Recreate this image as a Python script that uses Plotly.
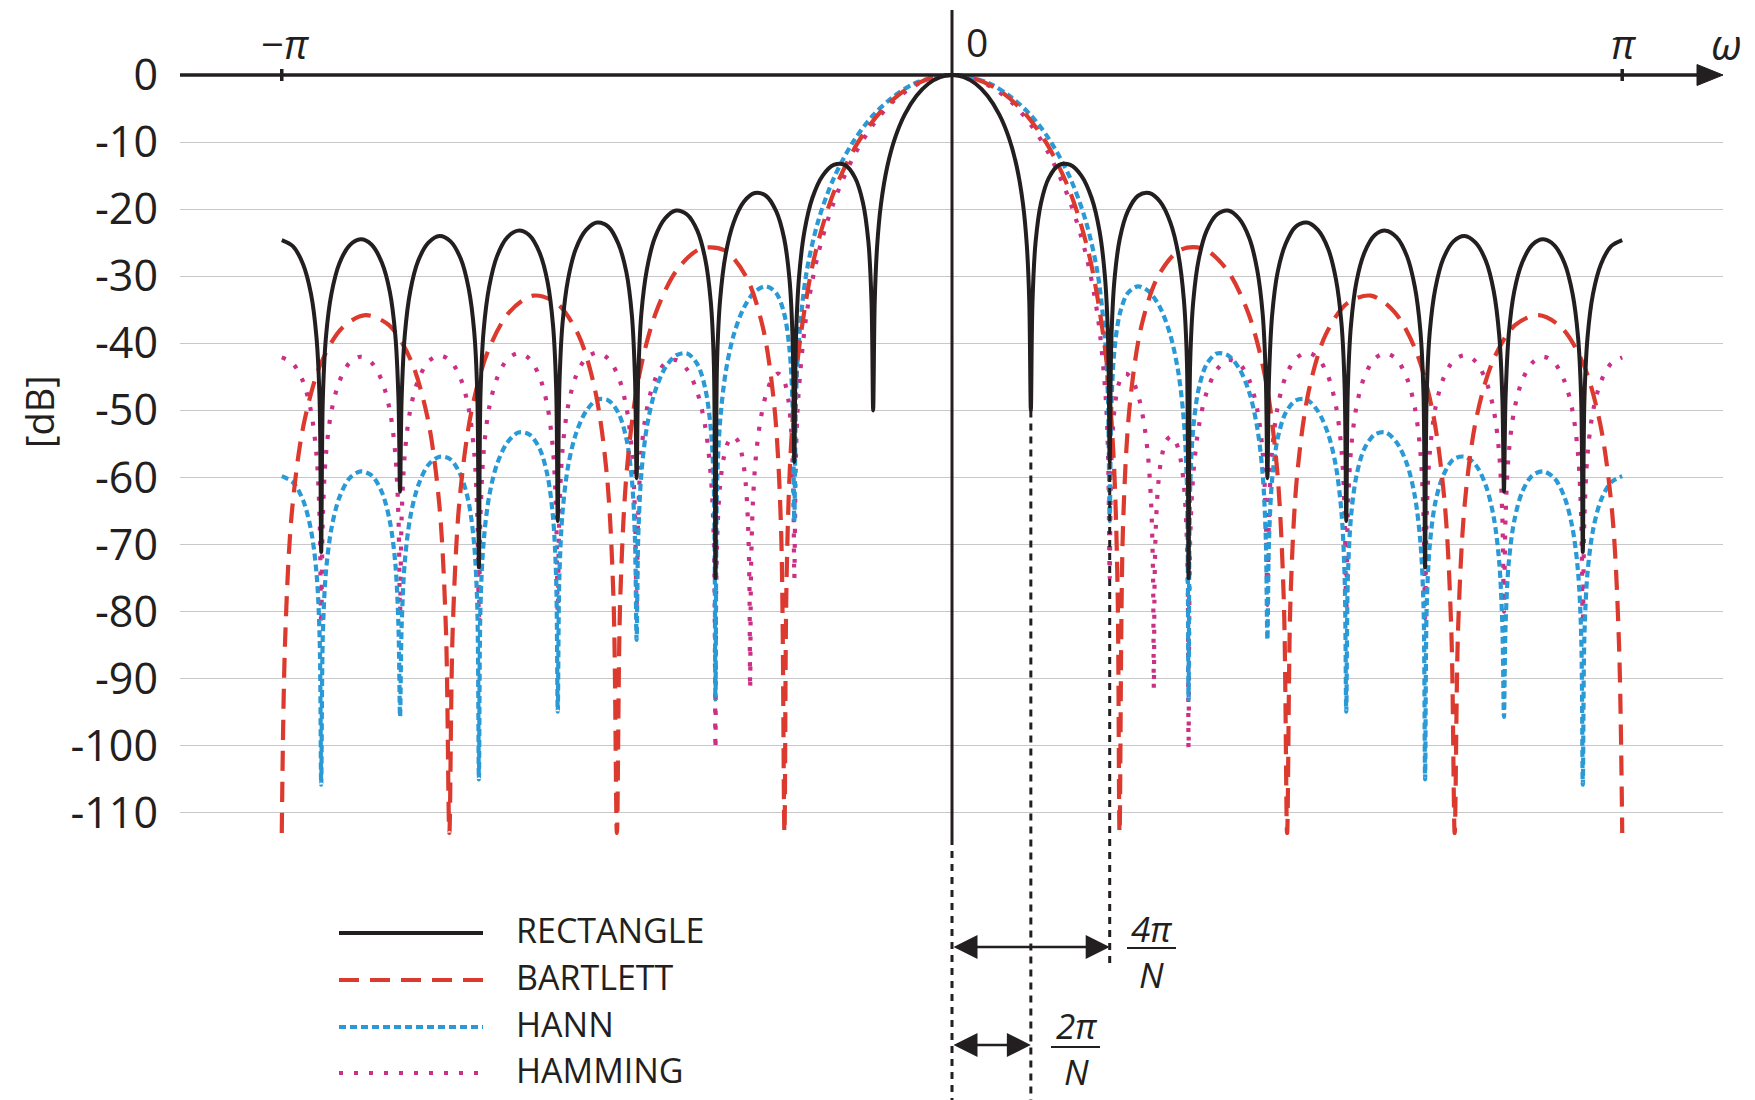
import plotly.graph_objects as go

# ---------------- data (positive-frequency half) ----------------
# x in units of 2*pi/N (N = 17): pi corresponds to 8.5
RECT_X = [0, 0.15, 0.3, 0.45, 0.6, 0.72, 0.82, 0.9, 0.95, 0.98, 1,
          1.02, 1.06, 1.13, 1.23, 1.36, 1.5, 1.64, 1.77, 1.87, 1.94, 1.98, 2,
          2.02, 2.06, 2.13, 2.23, 2.36, 2.5, 2.64, 2.77, 2.87, 2.94, 2.98, 3,
          3.02, 3.06, 3.13, 3.23, 3.36, 3.5, 3.64, 3.77, 3.87, 3.94, 3.98, 4,
          4.02, 4.06, 4.13, 4.23, 4.36, 4.5, 4.64, 4.77, 4.87, 4.94, 4.98, 5,
          5.02, 5.06, 5.13, 5.23, 5.36, 5.5, 5.64, 5.77, 5.87, 5.94, 5.98, 6,
          6.02, 6.06, 6.13, 6.23, 6.36, 6.5, 6.64, 6.77, 6.87, 6.94, 6.98, 7,
          7.02, 7.06, 7.13, 7.23, 7.36, 7.5, 7.64, 7.77, 7.87, 7.94, 7.98, 8,
          8.02, 8.06, 8.13, 8.23, 8.36, 8.5]
RECT_DB = [0.0, -0.3, -1.3, -3.1, -5.9, -9.3, -13.6, -19.2, -25.6, -33.8, -50.0,
           -34.1, -24.9, -19.0, -15.3, -13.4, -13.4, -15.0, -18.3, -23.2, -30.1, -39.7, -57.7,
           -39.9, -30.6, -24.3, -20.3, -18.0, -17.6, -18.9, -22.0, -26.7, -33.4, -43.0, -75.0,
           -43.1, -33.7, -27.4, -23.2, -20.8, -20.2, -21.4, -24.3, -29.0, -35.6, -45.2, -60.1,
           -45.3, -35.8, -29.4, -25.2, -22.6, -22.0, -23.1, -25.9, -30.5, -37.1, -46.7, -66.5,
           -46.7, -37.3, -30.8, -26.5, -23.9, -23.2, -24.2, -27.0, -31.6, -38.1, -47.7, -73.4,
           -47.7, -38.2, -31.8, -27.4, -24.8, -24.0, -25.0, -27.7, -32.2, -38.8, -48.3, -62.1,
           -48.3, -38.8, -32.3, -28.0, -25.3, -24.5, -25.4, -28.1, -32.6, -39.1, -48.6, -71.1,
           -48.6, -39.1, -32.6, -28.2, -25.5, -24.6]

BART_X = [0, 0.3, 0.6, 0.9, 1.2, 1.5, 1.75, 1.95, 2.05, 2.1, 2.125,
          2.168, 2.253, 2.401, 2.614, 2.89, 3.188, 3.485, 3.761, 3.974, 4.123, 4.208, 4.25,
          4.293, 4.378, 4.526, 4.739, 5.015, 5.313, 5.61, 5.886, 6.099, 6.248, 6.333, 6.375,
          6.418, 6.503, 6.651, 6.864, 7.14, 7.438, 7.735, 8.011, 8.224, 8.373, 8.458, 8.5]
BART_DB = [0.0, -0.6, -2.3, -5.4, -10.2, -17.5, -27.4, -41.7, -57.1, -76.5, -113.0,
           -67.6, -49.4, -37.5, -30.0, -26.1, -25.9, -29.0, -35.6, -45.2, -58.8, -78.3, -113.0,
           -78.1, -59.5, -47.0, -38.7, -34.0, -32.9, -35.3, -41.2, -50.4, -63.7, -83.0, -113.0,
           -82.7, -63.9, -51.1, -42.5, -37.3, -35.8, -37.7, -43.2, -52.2, -65.3, -84.4, -113.0]

HANN_X = [0, 0.25, 0.5, 0.75, 1.0, 1.25, 1.5, 1.7, 1.85, 1.95, 1.98, 2,
          2.02, 2.06, 2.13, 2.23, 2.36, 2.5, 2.64, 2.77, 2.87, 2.94, 2.98, 3,
          3.02, 3.06, 3.13, 3.23, 3.36, 3.5, 3.64, 3.77, 3.87, 3.94, 3.98, 4,
          4.02, 4.06, 4.13, 4.23, 4.36, 4.5, 4.64, 4.77, 4.87, 4.94, 4.98, 5,
          5.02, 5.06, 5.13, 5.23, 5.36, 5.5, 5.64, 5.77, 5.87, 5.94, 5.98, 6,
          6.02, 6.06, 6.13, 6.23, 6.36, 6.5, 6.64, 6.77, 6.87, 6.94, 6.98, 7,
          7.02, 7.06, 7.13, 7.23, 7.36, 7.5, 7.64, 7.77, 7.87, 7.94, 7.98, 8,
          8.02, 8.06, 8.13, 8.23, 8.36, 8.5]
HANN_DB = [0.0, -0.4, -1.4, -3.3, -6.0, -9.9, -15.4, -21.9, -29.8, -40.8, -49.2, -66.5,
           -49.9, -41.0, -35.5, -32.5, -31.5, -32.3, -34.7, -38.8, -44.3, -51.5, -61.4, -93.1,
           -61.7, -52.6, -46.7, -43.1, -41.5, -41.8, -43.7, -47.3, -52.5, -59.5, -69.2, -84.2,
           -69.5, -60.3, -54.2, -50.4, -48.5, -48.4, -50.1, -53.5, -58.4, -65.3, -75.0, -94.9,
           -75.2, -65.9, -59.7, -55.7, -53.6, -53.3, -54.8, -58.0, -62.8, -69.6, -79.2, -105.0,
           -79.4, -70.0, -63.7, -59.7, -57.3, -56.9, -58.1, -61.2, -65.9, -72.6, -82.2, -95.7,
           -82.2, -72.8, -66.5, -62.2, -59.7, -59.1, -60.1, -63.0, -67.6, -74.1, -83.7, -105.8,
           -83.7, -74.2, -67.8, -63.4, -60.7, -59.8]

HAMM_X = [0, 0.25, 0.5, 0.75, 1.0, 1.25, 1.5, 1.7, 1.85, 1.95, 1.98, 2,
          2.011, 2.034, 2.073, 2.129, 2.202, 2.28, 2.358, 2.431, 2.487, 2.526, 2.549, 2.56,
          2.569, 2.586, 2.617, 2.661, 2.718, 2.78, 2.842, 2.899, 2.943, 2.974, 2.991, 3,
          3.02, 3.06, 3.13, 3.23, 3.36, 3.5, 3.64, 3.77, 3.87, 3.94, 3.98, 4,
          4.02, 4.06, 4.13, 4.23, 4.36, 4.5, 4.64, 4.77, 4.87, 4.94, 4.98, 5,
          5.02, 5.06, 5.13, 5.23, 5.36, 5.5, 5.64, 5.77, 5.87, 5.94, 5.98, 6,
          6.02, 6.06, 6.13, 6.23, 6.36, 6.5, 6.64, 6.77, 6.87, 6.94, 6.98, 7,
          7.02, 7.06, 7.13, 7.23, 7.36, 7.5, 7.64, 7.77, 7.87, 7.94, 7.98, 8,
          8.02, 8.06, 8.13, 8.23, 8.36, 8.5]
HAMM_DB = [0.0, -0.4, -1.8, -4.0, -7.4, -12.2, -19.0, -26.8, -36.1, -48.2, -57.0, -75.0,
           -63.1, -54.0, -48.6, -45.6, -44.5, -45.3, -47.6, -51.6, -56.9, -64.0, -74.1, -91.5,
           -75.9, -67.1, -60.8, -56.8, -54.5, -53.9, -54.8, -57.3, -61.4, -67.8, -76.8, -100.5,
           -69.5, -59.6, -52.4, -47.3, -43.9, -42.5, -43.0, -45.5, -49.8, -56.2, -65.7, -79.0,
           -65.6, -56.1, -49.5, -45.0, -42.3, -41.4, -42.2, -44.9, -49.4, -55.9, -65.4, -80.0,
           -65.4, -55.9, -49.4, -45.0, -42.3, -41.5, -42.4, -45.2, -49.6, -56.2, -65.7, -81.0,
           -65.7, -56.2, -49.7, -45.3, -42.6, -41.8, -42.7, -45.5, -49.9, -56.5, -66.0, -80.0,
           -66.0, -56.5, -50.0, -45.6, -42.9, -42.0, -42.9, -45.7, -50.1, -56.6, -66.1, -82.0,
           -66.1, -56.6, -50.1, -45.7, -43.0, -42.1]

Y_TICKS = [0, -10, -20, -30, -40, -50, -60, -70, -80, -90, -100, -110]
Y_TICK_TEXT = ["0", "-10", "-20", "-30", "-40", "-50", "-60", "-70", "-80", "-90", "-100", "-110"]
PI_POS = 8.5          # omega = pi in units of 2*pi/N
RECT_NULL_1, RECT_NULL_2 = -50.0, -57.7

# ---------------- styling / geometry (page pixel targets) ----------------
W, H = 1755, 1100
OFF = 8                          # page body margin
PL, PR = 180, 1723               # plot-area left / right on the page
X0PX, PXU = 952, 78.85           # page pixel of omega=0, pixels per unit
Y0PX, PXDB = 75, 6.708           # page pixel of 0 dB, pixels per dB

def ux(px):
    return (px - X0PX) / PXU

def dby(py):
    return -(py - Y0PX) / PXDB

def xp(px):
    return (px - PL) / (PR - PL)

def yp(py):
    return 1 - (py - OFF) / H

XR = [ux(PL), ux(PR)]
YR = [dby(H + OFF), dby(OFF)]

BLACK = "#231f20"
RED = "#dc3a2e"
BLUE = "#2a9ad6"
PINK = "#cc2f86"
FONT = "Open Sans"

def mirror(xs, ys):
    return ([-v for v in reversed(xs[1:])] + list(xs),
            list(reversed(ys[1:])) + list(ys))

fig = go.Figure()
series = [
    ("HAMMING", HAMM_X, HAMM_DB, PINK, "4px,11px", 4.2),
    ("HANN", HANN_X, HANN_DB, BLUE, "7px,4px", 4.2),
    ("BARTLETT", BART_X, BART_DB, RED, "20px,11px", 4.2),
    ("RECTANGLE", RECT_X, RECT_DB, BLACK, "solid", 4),
]
for name, xs, ys, col, dash, wid in series:
    fx, fy = mirror(xs, ys)
    fig.add_trace(go.Scatter(x=fx, y=fy, mode="lines", name=name,
                             line=dict(color=col, dash=dash, width=wid,
                                       shape="spline", smoothing=0.9),
                             showlegend=False, hoverinfo="skip"))

shapes = []
# omega axis with arrow
shapes.append(dict(type="line", xref="x", yref="y", x0=XR[0], x1=ux(1700), y0=0, y1=0,
                   line=dict(color=BLACK, width=3.5)))
hy = 10.5 / PXDB
shapes.append(dict(type="path", xref="x", yref="y",
                   path=f"M {ux(1697)},{hy} L {ux(1723)},0 L {ux(1697)},{-hy} Z",
                   fillcolor=BLACK, line=dict(color=BLACK, width=1)))
# ticks at -pi, pi
for xv in (-PI_POS, PI_POS):
    shapes.append(dict(type="line", xref="x", yref="y", x0=xv, x1=xv,
                       y0=dby(69), y1=dby(81), line=dict(color=BLACK, width=3.5)))
# vertical line at 0
shapes.append(dict(type="line", xref="x", yref="y", x0=0, x1=0, y0=dby(10), y1=dby(838),
                   line=dict(color=BLACK, width=3)))
DOT = "7px,6px"
shapes.append(dict(type="line", xref="x", yref="y", x0=0, x1=0, y0=dby(838), y1=YR[0],
                   line=dict(color=BLACK, width=3, dash=DOT)))
shapes.append(dict(type="line", xref="x", yref="y", x0=1, x1=1, y0=RECT_NULL_1, y1=YR[0],
                   line=dict(color=BLACK, width=3, dash=DOT)))
shapes.append(dict(type="line", xref="x", yref="y", x0=2, x1=2, y0=RECT_NULL_2, y1=dby(968),
                   line=dict(color=BLACK, width=3, dash=DOT)))
# fraction bars
shapes.append(dict(type="line", xref="x", yref="y", x0=ux(1127), x1=ux(1176),
                   y0=dby(948), y1=dby(948), line=dict(color=BLACK, width=2)))
shapes.append(dict(type="line", xref="x", yref="y", x0=ux(1051), x1=ux(1100),
                   y0=dby(1047), y1=dby(1047), line=dict(color=BLACK, width=2)))
# legend samples
leg = [("RECTANGLE", BLACK, "solid", 4), ("BARTLETT", RED, "20px,11px", 4.2),
       ("HANN", BLUE, "7px,4px", 4.2), ("HAMMING", PINK, "4px,11px", 4.2)]
leg_line_y = [933, 980, 1027, 1073]
for (name, col, dash, wid), ly in zip(leg, leg_line_y):
    shapes.append(dict(type="line", xref="x", yref="y", x0=ux(339), x1=ux(483),
                       y0=dby(ly), y1=dby(ly), line=dict(color=col, width=wid, dash=dash)))

ann = []
def text(s, px, py, size, xanchor="center", angle=0):
    ann.append(dict(text=s, x=xp(px), y=yp(py), xref="paper", yref="paper",
                    xanchor=xanchor, yanchor="middle", showarrow=False, textangle=angle,
                    font=dict(family=FONT, size=size, color=BLACK)))

for (name, col, dash, wid), ly in zip(leg, leg_line_y):
    text(name, 514, ly - 3, 34, xanchor="left")

text("−<i>π</i>", 285, 43, 40)
text("0", 977, 41, 39)
text("<i>π</i>", 1624, 43, 40)
text("<i>ω</i>", 1727, 43, 42)
text("[dB]", 39, 412, 38, angle=-90)
text("<i>4π</i><br><i>N</i>", 1151, 951, 35)
text("<i>2π</i><br><i>N</i>", 1076, 1048, 35)

# double arrows
for xe, py in ((2, 947), (1, 1045)):
    ann.append(dict(x=xe, y=dby(py), ax=0, ay=dby(py), xref="x", yref="y",
                    axref="x", ayref="y", text="", showarrow=True,
                    arrowside="end+start", arrowhead=2, arrowsize=2.0, arrowwidth=2.4,
                    arrowcolor=BLACK, standoff=0, startstandoff=0))

fig.update_layout(
    width=W, height=H, margin=dict(l=PL - OFF, r=W - (PR - OFF), t=0, b=0),
    plot_bgcolor="white", paper_bgcolor="white",
    xaxis=dict(range=XR, visible=False, fixedrange=True),
    yaxis=dict(range=YR, tickvals=Y_TICKS, ticktext=Y_TICK_TEXT, showgrid=True,
               gridcolor="#c8c8c8", gridwidth=1.3, zeroline=False, showline=False,
               ticks="", ticklabelstandoff=21,
               tickfont=dict(family=FONT, size=43, color=BLACK), fixedrange=True),
    shapes=shapes, annotations=ann, showlegend=False,
)
fig.write_html("out.html")
